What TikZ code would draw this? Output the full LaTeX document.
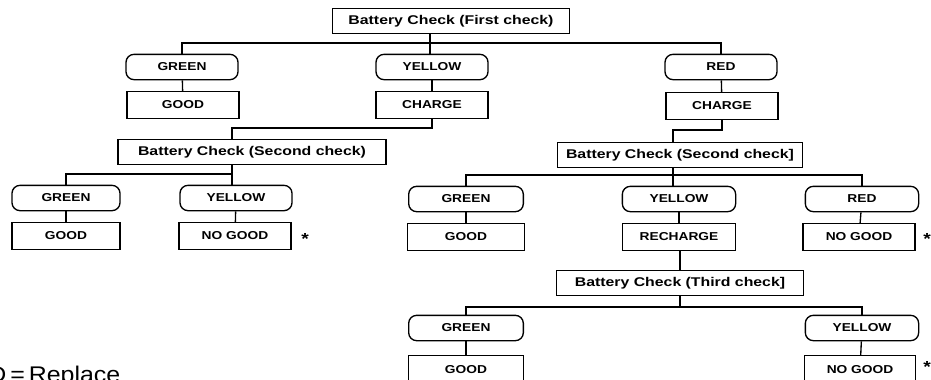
\documentclass[tikz,border=0pt]{standalone}
\usepackage{fontspec}
\setmainfont{Liberation Sans}
\newfontfamily\labfont[FakeStretch=1.2]{Liberation Sans}
\newfontfamily\chkfont[FakeStretch=1.25]{Liberation Sans}
\newfontfamily\legfont[FakeStretch=1.1]{Liberation Sans}
\begin{document}
\begin{tikzpicture}[x=0.75pt,y=-0.75pt,
  every node/.style={font=\labfont\bfseries\fontsize{8.6}{10}\selectfont, inner sep=0pt, line width=1pt},
  sq/.style={draw, rectangle, minimum width=84pt, minimum height=20pt},
  rd/.style={draw, rectangle, rounded corners=6pt, minimum width=84pt, minimum height=19pt},
  chk/.style={draw, rectangle, minimum height=18.5pt, font=\chkfont\bfseries\fontsize{9.5}{11}\selectfont},
  star/.style={font=\labfont\bfseries\fontsize{12}{12}\selectfont},
  ln/.style={line width=1pt}]
\useasboundingbox (0,0) rectangle (931,379);
% level 1
\node[chk, minimum width=178pt] (top) at (451,21) {Battery Check (First check)};
\node[rd] (g1) at (182,67) {GREEN};
\node[rd] (y1) at (432,67) {YELLOW};
\node[rd] (r1) at (721,67) {RED};
\node[sq] (ok1) at (183,105) {GOOD};
\node[sq] (c1) at (432,105) {CHARGE};
\node[sq] (c2) at (722,106) {CHARGE};
\coordinate (h1) at (430,43);
\draw[ln] (g1.north) |- (h1) -| (r1.north);
\draw[ln] (top.south -| h1) -- (h1 |- y1.north);
\draw[ln] (g1) -- (ok1);
\draw[ln] (y1) -- (c1);
\draw[ln] (r1) -- (c2);
% left second check
\node[chk, minimum width=201pt] (k2l) at (252,152) {Battery Check (Second check)};
\coordinate (d1) at (232,128);
\draw[ln] (c1.south) |- (d1) -- (d1 |- k2l.north);
\node[rd, minimum width=81pt] (g2l) at (66,198) {GREEN};
\node[rd] (y2l) at (236,198) {YELLOW};
\node[sq, minimum width=81pt] (ok2l) at (66,236) {GOOD};
\node[sq] (ng2l) at (235,236) {NO GOOD};
\node[star] (s1) at (305,239) {*};
\coordinate (h2) at (232,174);
\draw[ln] (g2l.north) |- (h2) -- (h2 |- y2l.north);
\draw[ln] (k2l.south -| h2) -- (h2);
\draw[ln] (g2l) -- (ok2l);
\draw[ln] (y2l) -- (ng2l);
% right second check
\node[chk, minimum width=184pt] (k2r) at (680,155) {Battery Check (Second check]};
\coordinate (d2) at (673,130);
\draw[ln] (c2.south) |- (d2) -- (d2 |- k2r.north);
\node[rd, minimum width=86pt] (g2r) at (466,199) {GREEN};
\node[rd, minimum width=85pt] (y2r) at (679,199) {YELLOW};
\node[rd, minimum width=85pt] (r2r) at (862,199) {RED};
\node[sq, minimum width=88pt] (ok2r) at (466,237) {GOOD};
\node[sq, minimum width=85pt] (rc) at (679,237) {RECHARGE};
\node[sq, minimum width=84pt] (ng2r) at (859,237) {NO GOOD};
\node[star] (s2) at (927,239) {*};
\coordinate (h3) at (673,175);
\draw[ln] (g2r.north) |- (h3) -| (r2r.north);
\draw[ln] (k2r.south -| h3) -- (h3 |- y2r.north);
\draw[ln] (g2r) -- (ok2r);
\draw[ln] (y2r) -- (rc);
\draw[ln] (r2r) -- (ng2r);
% third check
\node[chk, minimum width=185pt] (k3) at (680,283) {Battery Check (Third check]};
\draw[ln] (rc.south -| k3.north) -- (k3.north);
\node[rd, minimum width=86pt] (g3) at (466,328) {GREEN};
\node[rd, minimum width=85pt] (y3) at (862,328) {YELLOW};
\node[sq, minimum width=86pt, minimum height=21pt, anchor=north] (ok3) at (466,355) {GOOD};
\node[sq, minimum width=83pt, minimum height=21pt, anchor=north] (ng3) at (860,355) {NO GOOD};
\node[star] (s3) at (927,367) {*};
\coordinate (h4) at (680,307);
\draw[ln] (g3.north) |- (h4) -| (y3.north);
\draw[ln] (k3.south) -- (h4);
\draw[ln] (g3) -- (ok3);
\draw[ln] (y3) -- (ng3);
% legend
\node[font=\legfont\fontsize{17}{19}\selectfont, anchor=base east] (leg) at (121,382) {NO GOOD\hspace{3pt}=\hspace{3pt}Replace};
\end{tikzpicture}
\end{document}
